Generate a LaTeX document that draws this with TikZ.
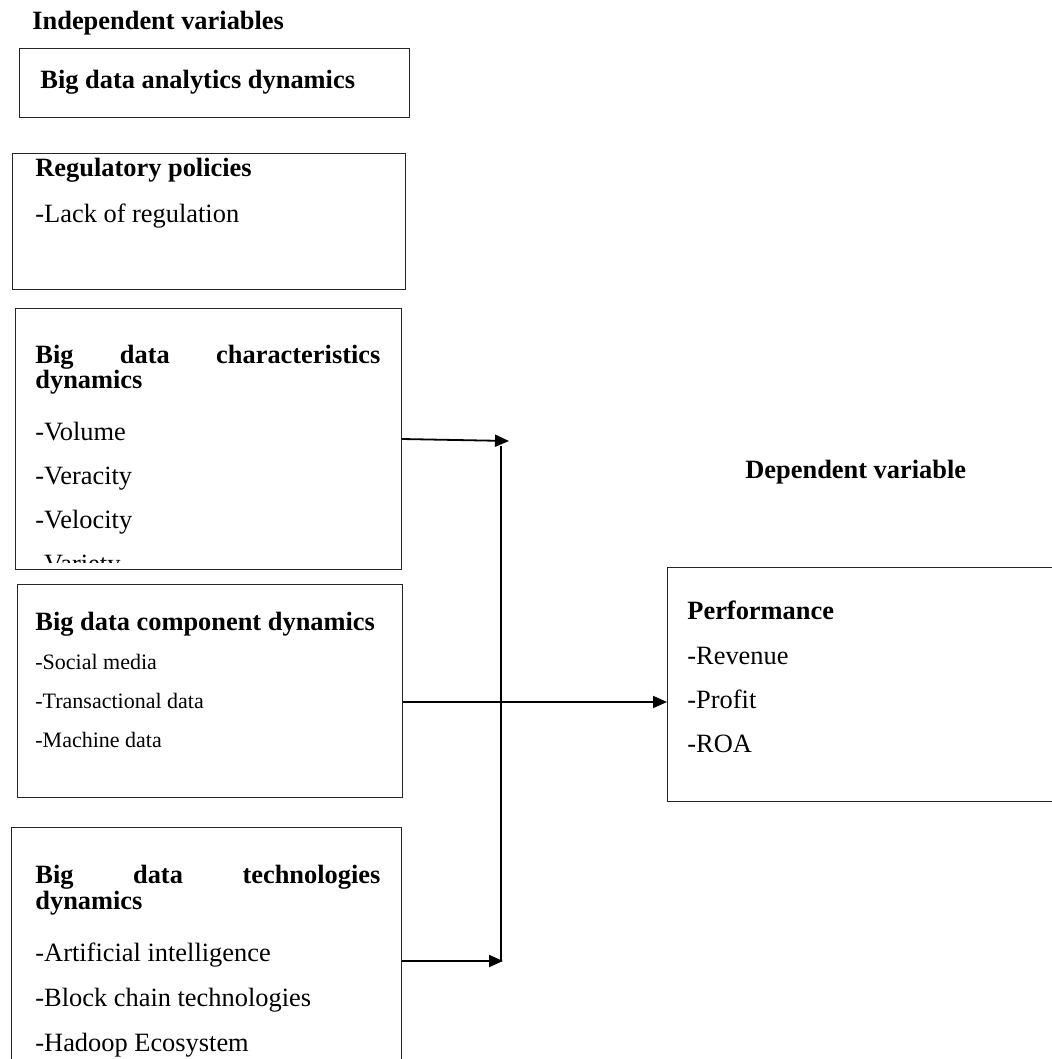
\documentclass[tikz,border=0pt]{standalone}
\usepackage{fontspec}
\setmainfont{Liberation Serif}
\usetikzlibrary{positioning,arrows.meta}

\begin{document}
\begin{tikzpicture}[x=0.5pt,y=-0.5pt,
  box/.style={draw=black!85,line width=0.5pt,inner sep=0pt,anchor=north west},
  head/.style={anchor=base west,inner sep=0pt,font=\bfseries\fontsize{13.2}{15}\selectfont},
  item/.style={anchor=base west,inner sep=0pt,font=\fontsize{13.2}{15}\selectfont},
  small/.style={anchor=base west,inner sep=0pt,font=\fontsize{11}{13}\selectfont},
  link/.style={line width=0.9pt},
  >={Triangle[length=7pt,width=6pt]}]
  \useasboundingbox (0,0) rectangle (1051,1059);

  % independent side
  \node[head] (indep) at (32,30) {Independent variables};
  \node[box,minimum width=195pt,minimum height=34.5pt] (bda) at (19,48) {};
  \node[head] (bdat) at (40,89) {Big data analytics dynamics};

  \node[box,minimum width=196.5pt,minimum height=68pt] (reg) at (12,153) {};
  \node[head] (regt) at (35,177) {Regulatory policies};
  \node[item] (reg1) at (35,222) {-Lack of regulation};

  \node[box,minimum width=193pt,minimum height=130.5pt] (ch) at (15,308) {};
  \node[head] (cht) at (35,363) {\makebox[172.5pt][s]{Big data characteristics}};
  \node[head] (cht2) at (35,388) {dynamics};
  \begin{scope}
    \clip (15,308) rectangle (401,562);
    \foreach \t [count=\i] in {Volume,Veracity,Velocity,Variety}
      \node[item] (ch\i) at (35,{396+44*\i}) {-\t};
  \end{scope}

  \node[box,minimum width=192.5pt,minimum height=106.5pt] (cp) at (17,584) {};
  \node[head] (cpt) at (35,630) {Big data component dynamics};
  \foreach \t [count=\i] in {Social media,Transactional data,Machine data}
    \node[small] (cp\i) at (35,{630+39*\i}) {-\t};

  \node[box,minimum width=195pt,minimum height=126.5pt] (tc) at (11,827) {};
  \node[head] (tct) at (35,883) {\makebox[172.5pt][s]{Big data technologies}};
  \node[head] (tct2) at (35,909) {dynamics};
  \foreach \t [count=\i] in {Artificial intelligence,Block chain technologies,Hadoop Ecosystem}
    \node[item] (tc\i) at (35,{916+45*\i}) {-\t};

  % dependent side
  \node[head] (dep) at (745,478) {Dependent variable};
  \node[box,minimum width=196.5pt,minimum height=117pt] (pf) at (667,567) {};
  \node[head] (pft) at (687,619) {Performance};
  \foreach \t [count=\i] in {Revenue,Profit,ROA}
    \node[item] (pf\i) at (687,{620+44*\i}) {-\t};

  % connectors
  \coordinate (jt) at (509,441);
  \coordinate (vt) at (501,446);
  \coordinate (jm) at (501,702);
  \coordinate (jb) at (503,961);
  \draw[link,->] (ch.east) -- (jt);
  \draw[link] (vt) -- (vt |- jb);
  \draw[link,->] (cp.east |- jm) -- (pf.west |- jm);
  \draw[link,->] (tc.east |- jb) -- (jb);
\end{tikzpicture}
\end{document}
